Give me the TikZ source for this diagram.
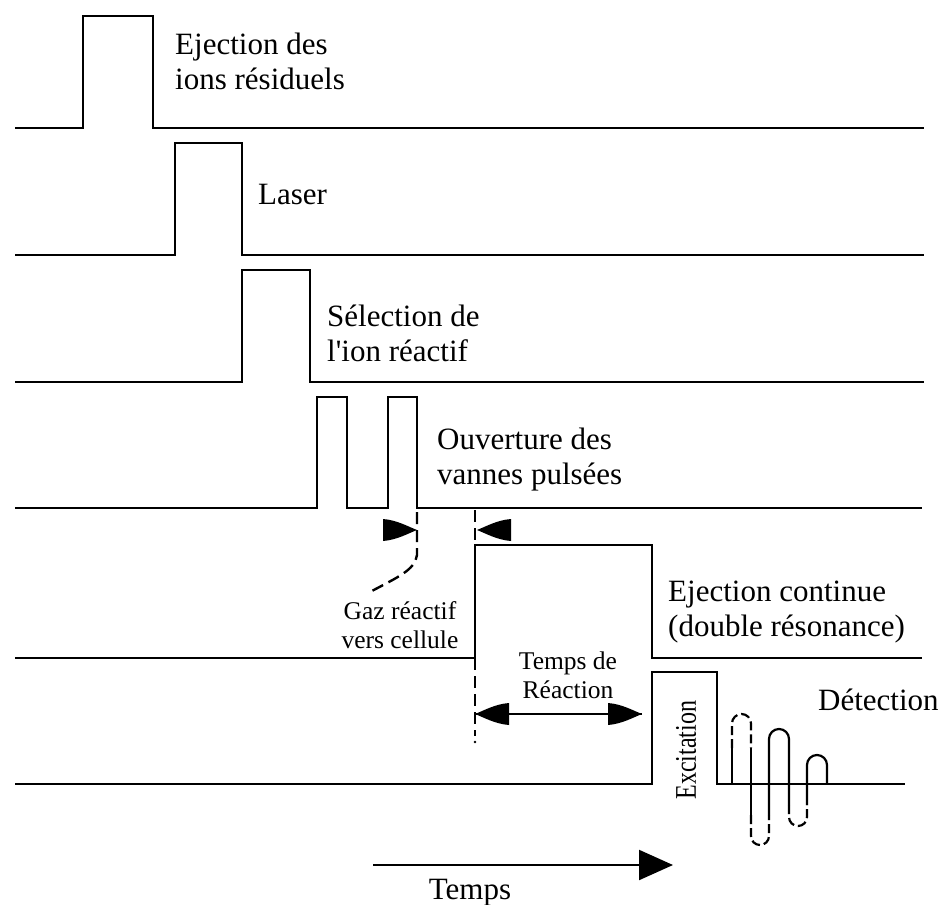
\documentclass[tikz,border=0pt]{standalone}
\usepackage{fontspec}
\setmainfont{Liberation Serif}
\newfontfamily\condserif[FakeStretch=0.8]{Liberation Serif}
\usetikzlibrary{arrows.meta}
\begin{document}
\begin{tikzpicture}[x=1pt,y=-1pt,
  sig/.style={line width=2.4pt, line join=miter},
  lbl/.style={inner sep=0pt, anchor=base west, font=\fontsize{31}{35}\selectfont, align=left},
  smalllbl/.style={inner sep=0pt, font=\fontsize{25.5}{29}\selectfont, align=center},
  dsh/.style={line width=2.4pt, dash pattern=on 12pt off 6pt},
  wav/.style={line width=2.2pt},
  wavd/.style={line width=2.2pt, dash pattern=on 9pt off 4pt},
  pics/flarehead/.style={code={\fill (0,0) .. controls (-8,-3) and (-20,-10) .. (-34,-11) -- (-34,11) .. controls (-20,10) and (-8,3) .. (0,0) -- cycle;}}
]
\useasboundingbox (0,0) rectangle (938,905);

% signal traces
\draw[sig] (15,128) -- (83,128) -- (83,16) -- (153,16) -- (153,128) -- (924,128);
\draw[sig] (15,255) -- (175,255) -- (175,143) -- (242,143) -- (242,255) -- (924,255);
\draw[sig] (15,382) -- (242,382) -- (242,270) -- (310,270) -- (310,382) -- (924,382);
\draw[sig] (15,508) -- (317,508) -- (317,397) -- (347,397) -- (347,508) -- (388,508) -- (388,397) -- (417,397) -- (417,508) -- (922,508);
\draw[sig] (15,658) -- (475,658) -- (475,545) -- (652,545) -- (652,658) -- (922,658);
\draw[sig] (15,784) -- (652,784) -- (652,672) -- (717,672) -- (717,784) -- (905,784);

% labels (base = baseline of last line)
\node[lbl] (ej) at (175,89) {Ejection des\\ions résiduels};
\node[lbl] (laser) at (258,204) {Laser};
\node[lbl] (sel) at (327,361) {Sélection de\\l\textquotesingle ion réactif};
\node[lbl] (ouv) at (437,484) {Ouverture des\\vannes pulsées};
\node[lbl] (ejc) at (668,636) {Ejection continue\\(double résonance)};
\node[lbl] (det) at (818,710) {Détection};
\node[smalllbl] (gaz) at (400,625) {Gaz réactif\\vers cellule};
\node[smalllbl] (tdr) at (568,675) {Temps de\\Réaction};
\node[inner sep=0pt, anchor=base, font=\fontsize{31}{34}\selectfont] (temps) at (470,899) {Temps};
\node[inner sep=0pt, rotate=90, font=\condserif\fontsize{30}{30}\selectfont] (exc) at (686,750) {Excitation};

% gas valve markers
\coordinate (g1) at (417,530);
\coordinate (g2) at (477,530);
\draw[dsh] (417,512) -- (417,555) .. controls (415,570) and (398,577) .. (370,592);
\pic at (g1) {flarehead};
\pic[rotate=180] at (g2) {flarehead};
\draw[dsh] (475,510) -- (475,545);
\draw[dsh] (475,658) -- (475,736);
\fill (475,742) circle (1.4);

% reaction time arrow
\coordinate (tr1) at (475,714);
\coordinate (tr2) at (642,714);
\draw[line width=2.2pt] (tr1) -- (tr2);
\pic[rotate=180] at (tr1) {flarehead};
\pic at (tr2) {flarehead};

% time arrow
\coordinate (t1) at (373,865);
\coordinate (t2) at (673,865);
\draw[line width=2.2pt, -{Triangle[length=34pt,width=30pt]}] (t1) -- (t2);

% detection wave
\draw[wav] (732,784) -- (732,748);
\draw[wavd] (732,748) -- (732,723.5) .. controls (732,718.3) and (736.3,714) .. (741.5,714) .. controls (746.7,714) and (751,718.3) .. (751,723.5) -- (751,748);
\draw[wav] (751,748) -- (751,815);
\draw[wavd] (751,815) -- (751,836) .. controls (751,841) and (755,845) .. (760,845) .. controls (765,845) and (769,841) .. (769,836) -- (769,815);
\draw[wav] (769,815) -- (769,739) .. controls (769,733.5) and (773.5,729) .. (779,729) .. controls (784.5,729) and (789,733.5) .. (789,739) -- (789,805);
\draw[wavd] (789,805) -- (789,817) .. controls (789,822) and (793,826) .. (798,826) .. controls (803,826) and (807,822) .. (807,817) -- (807,805);
\draw[wav] (807,805) -- (807,765) .. controls (807,759.5) and (811.5,755) .. (817,755) .. controls (822.5,755) and (827,759.5) .. (827,765) -- (827,784);
\end{tikzpicture}
\end{document}
